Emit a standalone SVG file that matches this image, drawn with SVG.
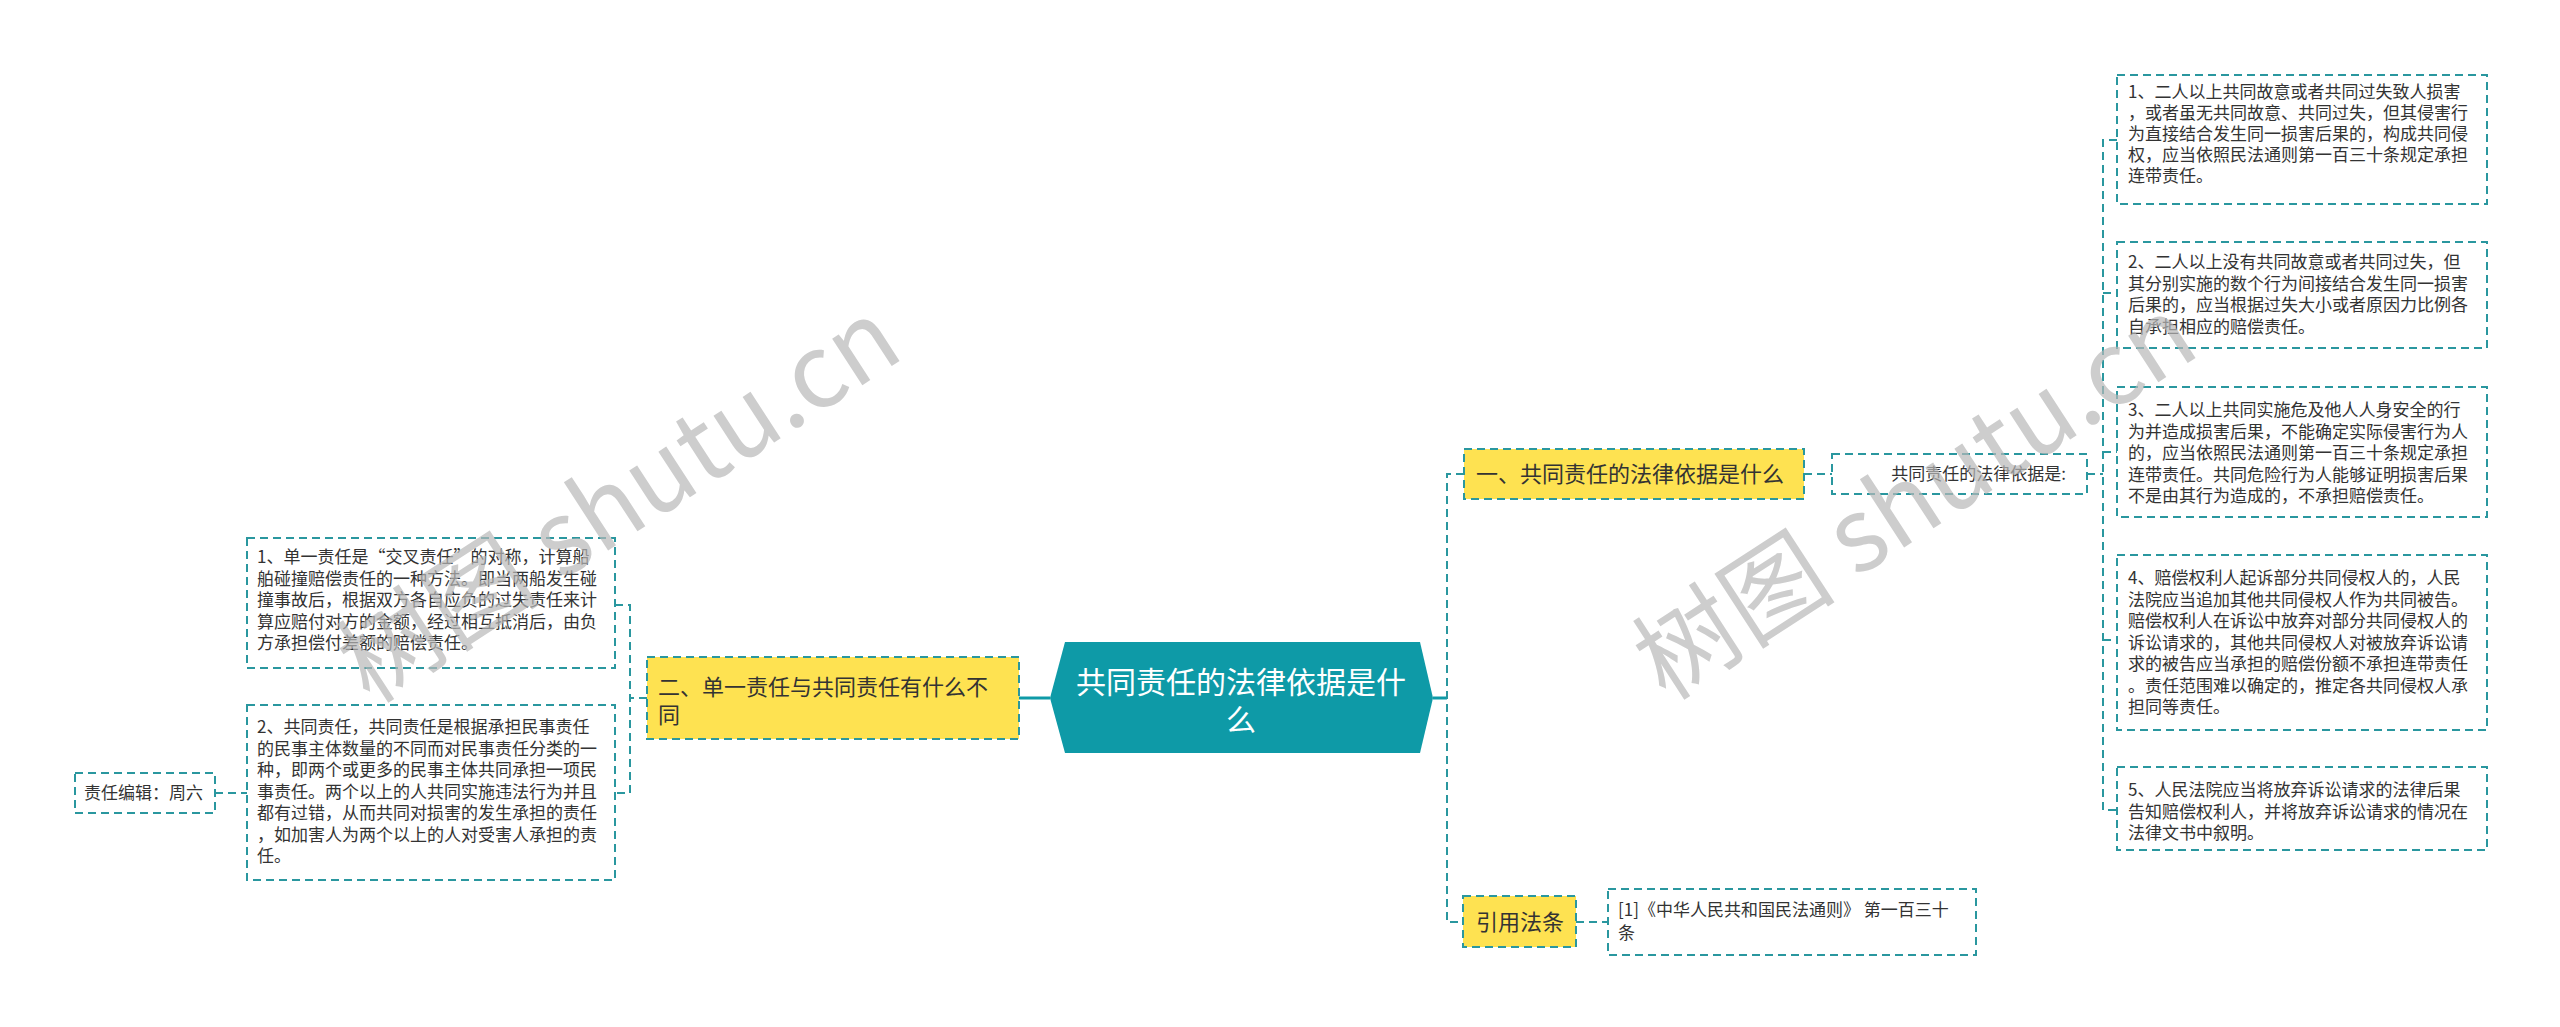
<svg xmlns="http://www.w3.org/2000/svg" width="2560" height="1027" viewBox="0 0 2560 1027">
<style>
.bg{fill:#ffffff}
.box{fill:#ffffff;stroke:#2a979f;stroke-width:2;stroke-dasharray:8 5}
.ybox{fill:#fee251;stroke:#2a979f;stroke-width:2;stroke-dasharray:8 5}
.con{fill:none;stroke:#2a979f;stroke-width:2;stroke-dasharray:8 5}
.solid{fill:none;stroke:#0e9aa7;stroke-width:3}
.t{font-family:"Noto Sans CJK SC","Liberation Sans",sans-serif;font-size:17px;fill:#333333}
.tm{font-family:"Noto Sans CJK SC","Liberation Sans",sans-serif;font-size:22px;fill:#333333}
.tc{font-family:"Noto Sans CJK SC","Liberation Sans",sans-serif;font-size:30px;fill:#ffffff}
.wm{font-family:"Noto Sans CJK SC","Liberation Sans",sans-serif;font-size:102px;fill:#b8b8b8;opacity:0.7}
</style>
<rect class="bg" x="0" y="0" width="2560" height="1027"/>

<g id="connectors">
  <path class="solid" d="M1050,698 H1019"/>
  <path class="con" d="M647,698 H630 M615,605 H630 V793 H615"/>
  <path class="con" d="M215,793 H247"/>
  <path class="solid" d="M1433,698 H1447"/>
  <path class="con" d="M1464,474 H1447 V922 H1464"/>
  <path class="con" d="M1804,474 H1832"/>
  <path class="con" d="M2087,474 H2103 M2117,140 H2103 V810 H2117 M2103,293 H2117 M2103,452 H2117 M2103,640 H2117"/>
  <path class="con" d="M1576,922 H1608"/>
</g>

<g id="center">
  <polygon points="1050,698 1065,642 1420,642 1433,698 1420,753 1065,753" fill="#0e9aa7"/>
  <text class="tc" x="1241" y="693" text-anchor="middle">共同责任的法律依据是什</text>
  <text class="tc" x="1241" y="731" text-anchor="middle">么</text>
</g>

<g id="node-left">
  <rect class="ybox" x="647" y="657" width="372" height="82"/>
  <text class="tm" x="658" y="695">二、单一责任与共同责任有什么不</text>
  <text class="tm" x="658" y="723">同</text>
</g>

<g id="node-left-1">
  <rect class="box" x="247" y="538" width="368" height="130"/>
  <text class="t" x="257" y="563">1、单一责任是“交叉责任”的对称，计算船</text>
  <text class="t" x="257" y="584.5">舶碰撞赔偿责任的一种方法。即当两船发生碰</text>
  <text class="t" x="257" y="606">撞事故后，根据双方各自应负的过失责任来计</text>
  <text class="t" x="257" y="627.5">算应赔付对方的金额，经过相互抵消后，由负</text>
  <text class="t" x="257" y="649">方承担偿付差额的赔偿责任。</text>
</g>

<g id="node-left-2">
  <rect class="box" x="247" y="705" width="368" height="175"/>
  <text class="t" x="257" y="733">2、共同责任，共同责任是根据承担民事责任</text>
  <text class="t" x="257" y="754.5">的民事主体数量的不同而对民事责任分类的一</text>
  <text class="t" x="257" y="776">种，即两个或更多的民事主体共同承担一项民</text>
  <text class="t" x="257" y="797.5">事责任。两个以上的人共同实施违法行为并且</text>
  <text class="t" x="257" y="819">都有过错，从而共同对损害的发生承担的责任</text>
  <text class="t" x="257" y="840.5">，如加害人为两个以上的人对受害人承担的责</text>
  <text class="t" x="257" y="862">任。</text>
</g>

<g id="node-editor">
  <rect class="box" x="75" y="773" width="140" height="40"/>
  <text class="t" x="84" y="799">责任编辑：周六</text>
</g>

<g id="node-r1">
  <rect class="ybox" x="1464" y="449" width="340" height="50"/>
  <text class="tm" x="1476" y="482">一、共同责任的法律依据是什么</text>
</g>

<g id="node-r1-a">
  <rect class="box" x="1832" y="454" width="255" height="40"/>
  <text class="t" x="2066" y="480" text-anchor="end">共同责任的法律依据是:</text>
</g>

<g id="node-r1-a1">
  <rect class="box" x="2117" y="75" width="370" height="129"/>
  <text class="t" x="2128" y="98">1、二人以上共同故意或者共同过失致人损害</text>
  <text class="t" x="2128" y="119">，或者虽无共同故意、共同过失，但其侵害行</text>
  <text class="t" x="2128" y="140">为直接结合发生同一损害后果的，构成共同侵</text>
  <text class="t" x="2128" y="161">权，应当依照民法通则第一百三十条规定承担</text>
  <text class="t" x="2128" y="182">连带责任。</text>
</g>

<g id="node-r1-a2">
  <rect class="box" x="2117" y="242" width="370" height="106"/>
  <text class="t" x="2128" y="268">2、二人以上没有共同故意或者共同过失，但</text>
  <text class="t" x="2128" y="289.5">其分别实施的数个行为间接结合发生同一损害</text>
  <text class="t" x="2128" y="311">后果的，应当根据过失大小或者原因力比例各</text>
  <text class="t" x="2128" y="332.5">自承担相应的赔偿责任。</text>
</g>

<g id="node-r1-a3">
  <rect class="box" x="2117" y="387" width="370" height="130"/>
  <text class="t" x="2128" y="416">3、二人以上共同实施危及他人人身安全的行</text>
  <text class="t" x="2128" y="437.5">为并造成损害后果，不能确定实际侵害行为人</text>
  <text class="t" x="2128" y="459">的，应当依照民法通则第一百三十条规定承担</text>
  <text class="t" x="2128" y="480.5">连带责任。共同危险行为人能够证明损害后果</text>
  <text class="t" x="2128" y="502">不是由其行为造成的，不承担赔偿责任。</text>
</g>

<g id="node-r1-a4">
  <rect class="box" x="2117" y="555" width="370" height="175"/>
  <text class="t" x="2128" y="584">4、赔偿权利人起诉部分共同侵权人的，人民</text>
  <text class="t" x="2128" y="605.5">法院应当追加其他共同侵权人作为共同被告。</text>
  <text class="t" x="2128" y="627">赔偿权利人在诉讼中放弃对部分共同侵权人的</text>
  <text class="t" x="2128" y="648.5">诉讼请求的，其他共同侵权人对被放弃诉讼请</text>
  <text class="t" x="2128" y="670">求的被告应当承担的赔偿份额不承担连带责任</text>
  <text class="t" x="2128" y="691.5">。责任范围难以确定的，推定各共同侵权人承</text>
  <text class="t" x="2128" y="713">担同等责任。</text>
</g>

<g id="node-r1-a5">
  <rect class="box" x="2117" y="767" width="370" height="83"/>
  <text class="t" x="2128" y="796">5、人民法院应当将放弃诉讼请求的法律后果</text>
  <text class="t" x="2128" y="817.5">告知赔偿权利人，并将放弃诉讼请求的情况在</text>
  <text class="t" x="2128" y="839">法律文书中叙明。</text>
</g>

<g id="node-r2">
  <rect class="ybox" x="1463" y="896" width="113" height="51"/>
  <text class="tm" x="1476" y="930">引用法条</text>
</g>

<g id="node-r2-a">
  <rect class="box" x="1608" y="889" width="368" height="66"/>
  <text class="t" x="1618" y="916">[1]《中华人民共和国民法通则》 第一百三十</text>
  <text class="t" x="1618" y="939">条</text>
</g>

<g id="watermarks">
  <text class="wm" x="370" y="705" transform="rotate(-33 370 705)">树图 shutu.cn</text>
  <text class="wm" x="1666" y="702" transform="rotate(-33 1666 702)">树图 shutu.cn</text>
</g>
</svg>
